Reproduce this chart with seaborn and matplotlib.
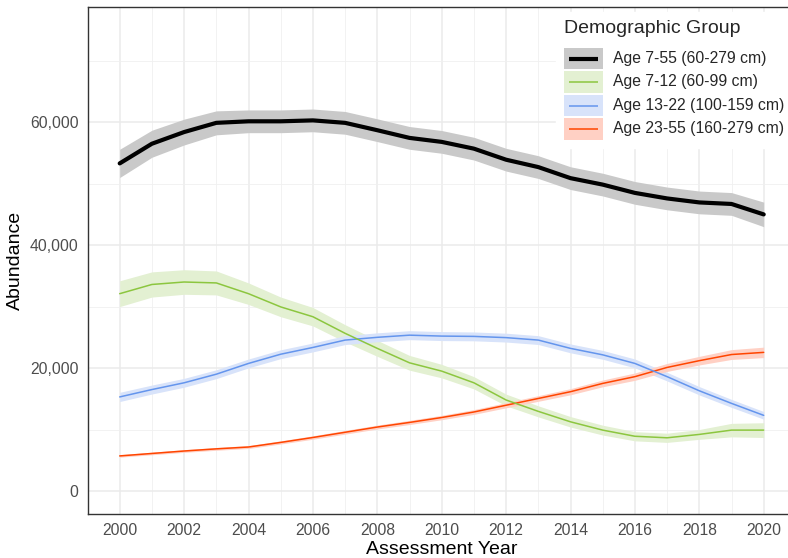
import numpy as np
import pandas as pd
import matplotlib
matplotlib.use("Agg")
import matplotlib.pyplot as plt
from matplotlib.patches import Rectangle
from matplotlib.lines import Line2D
from matplotlib.ticker import FuncFormatter, MultipleLocator
import seaborn as sns

# ---------------- data ----------------
years = list(range(2000, 2021))
groups = ["Age 7-55 (60-279 cm)", "Age 7-12 (60-99 cm)",
          "Age 13-22 (100-159 cm)", "Age 23-55 (160-279 cm)"]

age_7_55 = [53300, 56500, 58400, 59900, 60150, 60150, 60300, 59900, 58700, 57450,
            56800, 55700, 53900, 52700, 50900, 49850, 48500, 47600, 46950, 46700, 45000]
age_7_12 = [32100, 33600, 34000, 33850, 32100, 29950, 28350, 25650, 23200, 20850,
            19500, 17600, 14800, 12950, 11250, 9900, 8900, 8650, 9200, 9900, 9900]
age_13_22 = [15300, 16500, 17600, 19000, 20750, 22250, 23350, 24550, 25000, 25350,
             25200, 25150, 24950, 24550, 23200, 22150, 20750, 18600, 16300, 14250, 12300]
age_23_55 = [5700, 6100, 6500, 6850, 7150, 7900, 8700, 9550, 10400, 11150,
             11950, 12850, 13950, 15050, 16150, 17500, 18600, 20100, 21200, 22200, 22550]

# half-widths of the confidence ribbons
ci_7_55 = [2300, 2200, 2100, 1950, 1850, 1850, 1850, 1850, 1850, 1850,
           1850, 1850, 1850, 1850, 1850, 1850, 1850, 1850, 1850, 1850, 2000]
ci_7_12 = [2100, 2050, 2000, 1950, 1750, 1600, 1500, 1400, 1300, 1200,
           1100, 1000, 950, 900, 850, 800, 750, 750, 800, 1100, 1200]
ci_13_22 = [750, 730, 720, 720, 720, 720, 720, 730, 730, 730,
            730, 720, 720, 720, 720, 720, 720, 700, 680, 650, 620]
ci_23_55 = [200, 210, 220, 230, 240, 260, 280, 300, 320, 340,
            360, 390, 420, 460, 500, 550, 600, 650, 700, 800, 850]

yticks = [0, 20000, 40000, 60000]
xticks = list(range(2000, 2021, 2))

values = [age_7_55, age_7_12, age_13_22, age_23_55]
cis = [ci_7_55, ci_7_12, ci_13_22, ci_23_55]

df = pd.DataFrame({
    "year": years * 4,
    "abundance": sum(values, []),
    "ci": sum(cis, []),
    "group": sum([[g] * len(years) for g in groups], []),
})

# ---------------- style ----------------
line_colors = {groups[0]: "#000000", groups[1]: "#8CC63F",
               groups[2]: "#6495ED", groups[3]: "#FF4500"}
fill_colors = {groups[0]: "#C9C9C9", groups[1]: "#E3F0D2",
               groups[2]: "#D8E3FA", groups[3]: "#FFD0C4"}
widths = {groups[0]: 3.0, groups[1]: 1.1, groups[2]: 1.1, groups[3]: 1.1}

sns.set_style("white")
plt.rcParams["font.family"] = ["Liberation Sans", "DejaVu Sans"]

fig = plt.figure(figsize=(7.88, 5.58), dpi=100)
ax = fig.add_axes([87.5 / 788, 44 / 558, 708.4 / 788, 507 / 558])

# ribbons
for g in groups:
    sub = df[df["group"] == g]
    ax.fill_between(sub["year"], sub["abundance"] - sub["ci"], sub["abundance"] + sub["ci"],
                    color=fill_colors[g], lw=0, zorder=2)

sns.lineplot(data=df, x="year", y="abundance", hue="group", size="group",
             palette=line_colors, sizes=widths, hue_order=groups[::-1],
             ax=ax, legend=False, zorder=3)

ax.set_xlim(1999, 2021)
ax.set_ylim(-3750, 78750)
ax.set_xticks(xticks)
ax.set_yticks(yticks)
ax.xaxis.set_minor_locator(MultipleLocator(1))
ax.yaxis.set_minor_locator(MultipleLocator(10000))
ax.yaxis.set_major_formatter(FuncFormatter(lambda v, p: f"{int(v):,}"))

ax.grid(which="major", color="#EBEBEB", lw=1.1, zorder=0)
ax.grid(which="minor", color="#F0F0F0", lw=0.6, zorder=0)
ax.set_axisbelow(True)
for s in ax.spines.values():
    s.set_color("#333333")
    s.set_linewidth(1.0)
    s.set_visible(True)

ax.tick_params(axis="both", which="major", length=3.5, width=0.9, color="#333333",
               labelsize=11.3, labelcolor="#4D4D4D", pad=3)
ax.tick_params(axis="both", which="minor", length=0)

ax.set_xlabel("Assessment Year", fontsize=14, color="black", labelpad=2)
ax.set_ylabel("Abundance", fontsize=14, color="black", labelpad=4)


# legend with ggplot-like keys (filled box + inset line)
class KeyHandler:
    def legend_artist(self, legend, orig_handle, fontsize, handlebox):
        fill, color, lw = orig_handle
        x0, y0 = -handlebox.xdescent, -handlebox.ydescent
        w, h = handlebox.width, handlebox.height
        tr = handlebox.get_transform()
        rect = Rectangle((x0, y0), w, h - 1, facecolor=fill, edgecolor="none", transform=tr)
        ln = Line2D([x0 + 0.12 * w, x0 + 0.88 * w], [y0 + h / 2 - 0.5] * 2,
                    color=color, lw=lw, transform=tr, solid_capstyle="butt")
        handlebox.add_artist(rect)
        handlebox.add_artist(ln)
        return rect


class Key:
    def __init__(self, fill, color, lw):
        self.v = (fill, color, lw)

    def __iter__(self):
        return iter(self.v)


handles = [Key(fill_colors[g], line_colors[g], widths[g]) for g in groups]
leg = ax.legend(handles, groups, title="Demographic Group", loc="upper left",
                bbox_to_anchor=(556 / 788, 1 - 12 / 558), bbox_transform=fig.transFigure,
                handler_map={Key: KeyHandler()},
                frameon=True, fancybox=False, framealpha=1.0, edgecolor="white",
                facecolor="white", fontsize=11.3, title_fontsize=14,
                handlelength=2.5, handleheight=1.85, labelspacing=0.05,
                handletextpad=0.65, borderpad=0.5, borderaxespad=0)
leg._legend_box.align = "left"
leg._legend_box.sep = 7
leg.set_zorder(5)

fig.savefig("out.png", dpi=100)
